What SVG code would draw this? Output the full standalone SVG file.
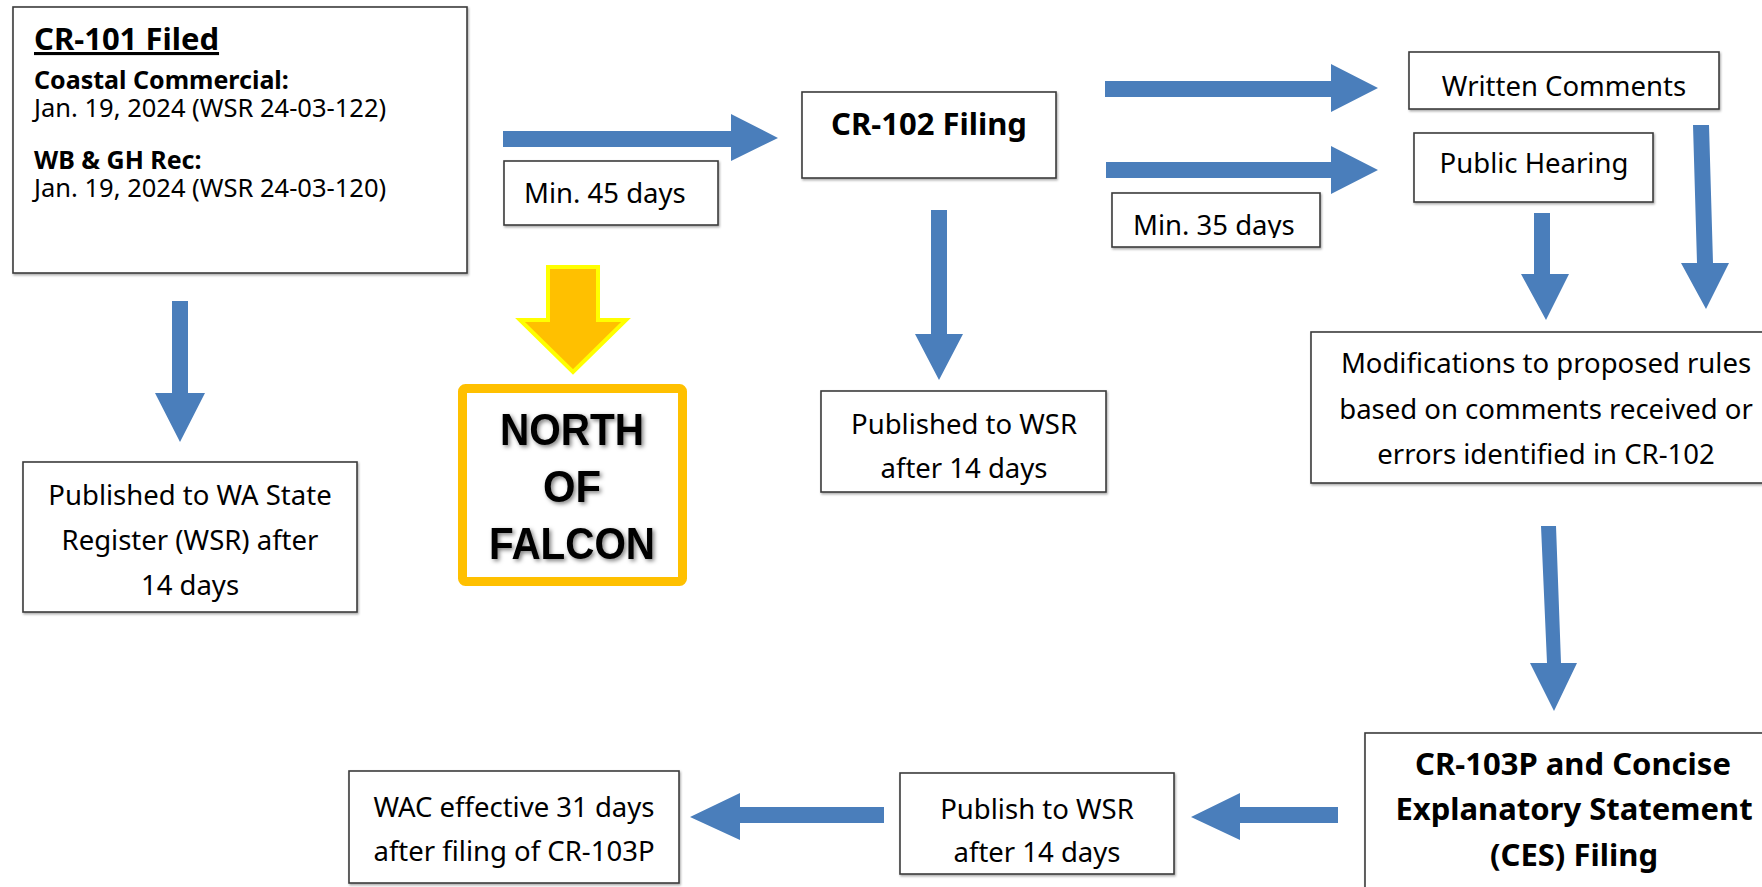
<svg xmlns="http://www.w3.org/2000/svg" width="1762" height="887" viewBox="0 0 1762 887">
<defs>
<style>
.box{fill:#fff;stroke:#3c3c3c;stroke-width:1.6}
.t{font-family:"Noto Sans","Open Sans","DejaVu Sans",sans-serif;font-size:27.5px;fill:#000}
.c{text-anchor:middle}
.b{font-weight:bold;font-size:31px}
.d{font-size:25.5px}
.bd{font-weight:bold;font-size:25px}
.arr{fill:#4A7EBB}
.nf{font-family:"Liberation Sans",Arial,sans-serif;font-weight:bold;font-size:45px;fill:#000;text-anchor:middle}
</style>
<filter id="sh" x="-10%" y="-10%" width="130%" height="130%">
<feDropShadow dx="2" dy="2" stdDeviation="2" flood-color="#000" flood-opacity="0.5"/>
</filter>
<filter id="bs" x="-5%" y="-5%" width="110%" height="115%">
<feDropShadow dx="1" dy="1.5" stdDeviation="0.8" flood-color="#000" flood-opacity="0.35"/>
</filter>
<clipPath id="clip35"><rect x="1112" y="193" width="208" height="45"/></clipPath>
</defs>
<rect width="1762" height="887" fill="#fff"/>

<g id="connectors">
<path class="arr" d="M503,131 L731,131 L731,114 L778,138 L731,161 L731,147 L503,147 Z"/>
<path class="arr" d="M1105,81 L1331,81 L1331,64 L1378,88 L1331,112 L1331,97 L1105,97 Z"/>
<path class="arr" d="M1106,162 L1331,162 L1331,146 L1378,170 L1331,194 L1331,178 L1106,178 Z"/>
<path class="arr" d="M172,301 L188,301 L188,393 L205,393 L180,442 L155,393 L172,393 Z"/>
<path class="arr" d="M931,210 L947,210 L947,334 L963,334 L939,380 L915,334 L931,334 Z"/>
<path class="arr" d="M1534,213 L1550,213 L1550,274 L1569,274 L1546,320 L1521,274 L1534,274 Z"/>
<path class="arr" d="M1693,125 L1709,125 L1713,263 L1729,263 L1706,309 L1681,263 L1697,263 Z"/>
<path class="arr" d="M1541,526 L1556,526 L1561,663 L1577,663 L1554,711 L1530,663 L1547,663 Z"/>
<path class="arr" d="M1338,807 L1240,807 L1240,793 L1191,817 L1240,840 L1240,823 L1338,823 Z"/>
<path class="arr" d="M884,807 L740,807 L740,793 L690,817 L740,840 L740,823 L884,823 Z"/>
<path d="M548,267 L598,267 L598,320 L626,320 L573,372 L520,320 L548,320 Z" fill="#FFC000" stroke="#FFFF00" stroke-width="4" stroke-linejoin="miter"/>
</g>

<g id="cr101">
<rect class="box" x="13" y="7" width="454" height="266" filter="url(#bs)"/>
<text class="t b" x="34" y="50" font-size="32" style="text-decoration:underline">CR-101 Filed</text>
<text class="t bd" x="34" y="89">Coastal Commercial:</text>
<text class="t d" x="34" y="117">Jan. 19, 2024 (WSR 24-03-122)</text>
<text class="t bd" x="34" y="169">WB &amp; GH Rec:</text>
<text class="t d" x="34" y="197">Jan. 19, 2024 (WSR 24-03-120)</text>
</g>

<g id="min45">
<rect class="box" x="504" y="161" width="214" height="64" filter="url(#bs)"/>
<text class="t" x="524" y="203">Min. 45 days</text>
</g>

<g id="cr102">
<rect class="box" x="802" y="92" width="254" height="86" filter="url(#bs)"/>
<text class="t b c" x="929" y="135">CR-102 Filing</text>
</g>

<g id="written">
<rect class="box" x="1409" y="52" width="310" height="57" filter="url(#bs)"/>
<text class="t c" x="1564" y="96">Written Comments</text>
</g>

<g id="hearing">
<rect class="box" x="1414" y="133" width="239" height="69" filter="url(#bs)"/>
<text class="t c" x="1534" y="173">Public Hearing</text>
</g>

<g id="min35">
<rect class="box" x="1112" y="193" width="208" height="54" filter="url(#bs)"/>
<text class="t" x="1133" y="235" clip-path="url(#clip35)">Min. 35 days</text>
</g>

<g id="pubwa">
<rect class="box" x="23" y="462" width="334" height="150" filter="url(#bs)"/>
<text class="t c" x="190" y="505" font-size="28">Published to WA State</text>
<text class="t c" x="190" y="550" font-size="28">Register (WSR) after</text>
<text class="t c" x="190" y="595" font-size="28">14 days</text>
</g>

<g id="northfalcon">
<rect x="462.5" y="388.5" width="220" height="193" rx="3" fill="#fff" stroke="#FFC000" stroke-width="9"/>
<g filter="url(#sh)">
<text class="nf" x="572" y="445" textLength="144" lengthAdjust="spacingAndGlyphs">NORTH</text>
<text class="nf" x="572" y="502" textLength="58" lengthAdjust="spacingAndGlyphs">OF</text>
<text class="nf" x="572" y="559" textLength="166" lengthAdjust="spacingAndGlyphs">FALCON</text>
</g>
</g>

<g id="pubwsr">
<rect class="box" x="821" y="391" width="285" height="101" filter="url(#bs)"/>
<text class="t c" x="964" y="434">Published to WSR</text>
<text class="t c" x="964" y="478">after 14 days</text>
</g>

<g id="modifications">
<rect class="box" x="1311" y="332" width="470" height="151" filter="url(#bs)"/>
<text class="t c" x="1546" y="373">Modifications to proposed rules</text>
<text class="t c" x="1546" y="419">based on comments received or</text>
<text class="t c" x="1546" y="464">errors identified in CR-102</text>
</g>

<g id="cr103p">
<rect class="box" x="1365" y="733" width="420" height="180" filter="url(#bs)"/>
<text class="t b c" x="1573" y="775">CR-103P and Concise</text>
<text class="t b c" x="1574" y="820" font-size="30.5">Explanatory Statement</text>
<text class="t b c" x="1574" y="866">(CES) Filing</text>
</g>

<g id="publish">
<rect class="box" x="900" y="773" width="274" height="101" filter="url(#bs)"/>
<text class="t c" x="1037" y="819">Publish to WSR</text>
<text class="t c" x="1037" y="862">after 14 days</text>
</g>

<g id="wac">
<rect class="box" x="349" y="771" width="330" height="112" filter="url(#bs)"/>
<text class="t c" x="514" y="817">WAC effective 31 days</text>
<text class="t c" x="514" y="861">after filing of CR-103P</text>
</g>
</svg>
